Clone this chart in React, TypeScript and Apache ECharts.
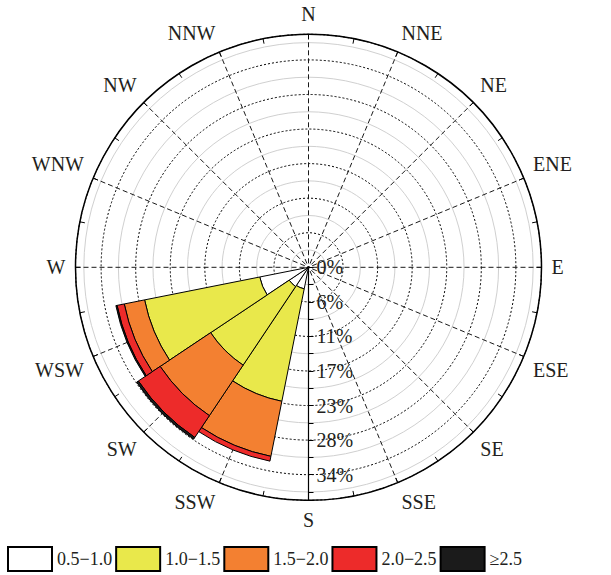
import React, { useEffect, useRef } from "react";
import * as echarts from "echarts";

const directions = ["N", "NNE", "NE", "ENE", "E", "ESE", "SE", "SSE", "S", "SSW", "SW", "WSW", "W", "WNW", "NW", "NNW"];
const speedBins = ["0.5−1.0", "1.0−1.5", "1.5−2.0", "2.0−2.5", "≥2.5"];
const binColors = ["#ffffff", "#e9e84b", "#f38031", "#ed2b2a", "#1b1b1b"];
// frequency (%) per direction, one array per wind-speed bin
const bin1 = [0, 0, 0, 0, 0, 0, 0, 0, 0, 3.6, 3.8, 8.15, 0, 0, 0, 0];
const bin2 = [0, 0, 0, 0, 0, 0, 0, 0, 0, 18.8, 15.5, 19.25, 0, 0, 0, 0];
const bin3 = [0, 0, 0, 0, 0, 0, 0, 0, 0, 9.2, 9.95, 3.4, 0, 0, 0, 0];
const bin4 = [0, 0, 0, 0, 0, 0, 0, 0, 0, 0.8, 4.3, 1.2, 0, 0, 0, 0];
const bin5 = [0, 0, 0, 0, 0, 0, 0, 0, 0, 0, 0.35, 0.2, 0, 0, 0, 0];
const binData = [bin1, bin2, bin3, bin4, bin5];
const radialMax = 38.2;
const radialStep = 34 / 6;

const font = "'Liberation Serif', 'Times New Roman', serif";

export default function App() {
  const ref = useRef<HTMLDivElement>(null);
  useEffect(() => {
    if (!ref.current) return;
    const chart = echarts.init(ref.current, undefined, { renderer: "svg" });
    const center = [308.5, 267.3];
    const radius = 233;
    chart.setOption({
      animation: false,
      backgroundColor: "#ffffff",
      polar: [
        { center, radius },
        { center, radius },
        { center, radius },
      ],
      angleAxis: [
        {
          polarIndex: 0,
          type: "value",
          min: 0,
          max: 360,
          interval: 22.5,
          startAngle: -90,
          clockwise: true,
          axisLine: { show: true, lineStyle: { color: "#000", width: 1.5 } },
          axisTick: { show: false },
          axisLabel: { show: false },
          splitLine: { show: true, lineStyle: { color: "#1a1a1a", type: [5, 3], width: 1 } },
        },
        {
          polarIndex: 1,
          type: "category",
          data: directions,
          startAngle: 101.25,
          clockwise: true,
          boundaryGap: true,
          axisLine: { show: false },
          axisTick: { show: false },
          splitLine: { show: false },
          axisLabel: { show: true, margin: 10, fontSize: 20, fontFamily: font, color: "#231f20" },
        },
        {
          polarIndex: 2,
          type: "value",
          min: 0,
          max: 360,
          interval: 11.25,
          startAngle: 90,
          clockwise: true,
          axisLine: { show: false },
          axisTick: { show: true, inside: true, length: 5, lineStyle: { color: "#000", width: 1 } },
          axisLabel: { show: false },
          splitLine: { show: false },
        },
      ],
      radiusAxis: [
        {
          polarIndex: 0,
          type: "value",
          min: 0,
          max: radialMax,
          interval: radialStep,
          axisLine: { show: true, lineStyle: { color: "#000", width: 1.2 } },
          axisTick: { show: true, length: 5, lineStyle: { color: "#000" } },
          minorTick: { show: true, splitNumber: 2, length: 5, lineStyle: { color: "#000" } },
          splitLine: { show: true, lineStyle: { color: "#000", type: [2, 2], width: 1 } },
          minorSplitLine: { show: true, lineStyle: { color: "#d0d0d0", width: 1 } },
          axisLabel: {
            show: true,
            margin: 8,
            fontSize: 20,
            fontFamily: font,
            color: "#231f20",
            formatter: (v: number) => (v > 35 ? "" : Math.round(v) + "%"),
          },
        },
        { polarIndex: 1, type: "value", min: 0, max: radialMax, show: false },
        { polarIndex: 2, type: "value", min: 0, max: radialMax, show: false },
      ],
      legend: {
        left: 7,
        top: 546,
        padding: 0,
        icon: "rect",
        itemWidth: 44,
        itemHeight: 24,
        itemGap: 3,
        textStyle: { fontSize: 18, fontFamily: font, color: "#231f20" },
        data: speedBins,
      },
      series: speedBins.map((name, i) => ({
        type: "bar",
        name,
        coordinateSystem: "polar",
        polarIndex: 1,
        stack: "wind",
        barCategoryGap: "0%",
        data: binData[i].map((v) => (v === 0 ? null : v)),
        itemStyle: { color: binColors[i], borderColor: "#000", borderWidth: 1 },
        z: 3,
      })),
    });
    return () => chart.dispose();
  }, []);
  return (
    <div
      ref={ref}
      style={{ position: "absolute", left: 0, top: 0, width: 611, height: 575 }}
    />
  );
}
